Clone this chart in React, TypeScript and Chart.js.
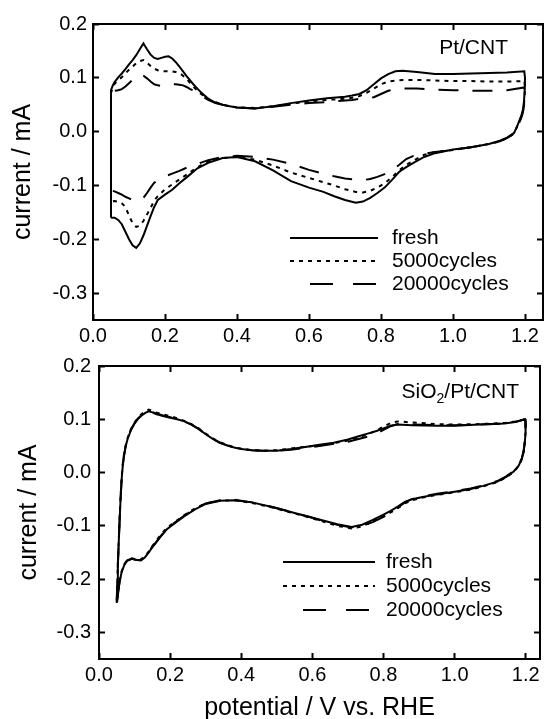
import React, { useEffect, useRef } from 'react';
import { Chart, registerables } from 'chart.js';

Chart.register(...registerables);

// ---------- DATA ----------
const seriesNames = ['fresh', '5000cycles', '20000cycles'];

// Top panel (Pt/CNT) potentials, V vs RHE
const topAnodicV = [0.05, 0.05, 0.055, 0.06, 0.07, 0.08, 0.09, 0.10, 0.11, 0.12, 0.13, 0.14, 0.15, 0.16, 0.17, 0.18, 0.19, 0.20, 0.21, 0.22, 0.23, 0.24, 0.25, 0.26, 0.27, 0.28, 0.29, 0.30, 0.32, 0.34, 0.36, 0.38, 0.40, 0.45, 0.50, 0.55, 0.60, 0.65, 0.70, 0.72, 0.74, 0.76, 0.78, 0.80, 0.82, 0.84, 0.86, 0.90, 0.95, 1.00, 1.05, 1.10, 1.15, 1.198];
const topCathodicV = [1.20, 1.199, 1.197, 1.194, 1.19, 1.18, 1.17, 1.15, 1.13, 1.10, 1.05, 1.00, 0.95, 0.92, 0.89, 0.87, 0.85, 0.83, 0.81, 0.79, 0.77, 0.75, 0.73, 0.70, 0.67, 0.64, 0.60, 0.55, 0.50, 0.45, 0.40, 0.36, 0.32, 0.29, 0.26, 0.24, 0.22, 0.20, 0.18, 0.17, 0.16, 0.15, 0.14, 0.13, 0.12, 0.11, 0.10, 0.09, 0.08, 0.07, 0.06, 0.05];

// Top panel currents, mA
const topFreshAnodic = [-0.16, 0.077, 0.086, 0.092, 0.101, 0.108, 0.116, 0.125, 0.133, 0.142, 0.153, 0.164, 0.153, 0.143, 0.137, 0.135, 0.137, 0.139, 0.140, 0.136, 0.129, 0.121, 0.112, 0.103, 0.095, 0.087, 0.080, 0.073, 0.061, 0.054, 0.050, 0.047, 0.045, 0.043, 0.047, 0.053, 0.058, 0.062, 0.065, 0.067, 0.070, 0.077, 0.088, 0.099, 0.107, 0.112, 0.113, 0.111, 0.107, 0.107, 0.108, 0.109, 0.110, 0.112];
const topFreshCathodic = [0.100, 0.075, 0.055, 0.040, 0.030, 0.013, -0.002, -0.011, -0.017, -0.023, -0.029, -0.033, -0.040, -0.047, -0.058, -0.066, -0.075, -0.090, -0.104, -0.114, -0.123, -0.130, -0.132, -0.127, -0.120, -0.112, -0.104, -0.092, -0.072, -0.055, -0.047, -0.049, -0.058, -0.068, -0.085, -0.096, -0.108, -0.117, -0.127, -0.140, -0.157, -0.175, -0.193, -0.208, -0.216, -0.211, -0.200, -0.186, -0.172, -0.164, -0.160, -0.160];
const top5000Anodic = [-0.13, 0.072, 0.082, 0.089, 0.096, 0.101, 0.108, 0.115, 0.121, 0.127, 0.131, 0.133, 0.128, 0.122, 0.117, 0.114, 0.112, 0.112, 0.112, 0.112, 0.111, 0.109, 0.104, 0.098, 0.090, 0.083, 0.076, 0.070, 0.061, 0.055, 0.050, 0.047, 0.045, 0.044, 0.047, 0.052, 0.056, 0.059, 0.061, 0.063, 0.066, 0.072, 0.080, 0.088, 0.093, 0.095, 0.096, 0.096, 0.095, 0.094, 0.094, 0.093, 0.093, 0.094];
const top5000Cathodic = [0.085, 0.066, 0.050, 0.037, 0.028, 0.012, -0.003, -0.012, -0.018, -0.023, -0.029, -0.034, -0.038, -0.043, -0.054, -0.062, -0.072, -0.085, -0.096, -0.104, -0.110, -0.113, -0.112, -0.107, -0.100, -0.094, -0.086, -0.076, -0.063, -0.052, -0.047, -0.049, -0.056, -0.066, -0.080, -0.089, -0.098, -0.107, -0.120, -0.128, -0.142, -0.154, -0.166, -0.175, -0.177, -0.170, -0.156, -0.140, -0.133, -0.130, -0.129, -0.130];
const top20000Anodic = [-0.11, 0.070, 0.074, 0.076, 0.077, 0.079, 0.084, 0.090, 0.096, 0.102, 0.106, 0.104, 0.099, 0.093, 0.088, 0.086, 0.085, 0.086, 0.088, 0.088, 0.088, 0.087, 0.086, 0.083, 0.079, 0.076, 0.072, 0.067, 0.059, 0.053, 0.050, 0.047, 0.045, 0.043, 0.046, 0.050, 0.053, 0.055, 0.058, 0.059, 0.061, 0.062, 0.064, 0.070, 0.076, 0.079, 0.080, 0.080, 0.078, 0.077, 0.076, 0.076, 0.077, 0.082];
const top20000Cathodic = [0.075, 0.060, 0.047, 0.035, 0.026, 0.011, -0.004, -0.012, -0.018, -0.023, -0.029, -0.034, -0.038, -0.041, -0.045, -0.051, -0.062, -0.072, -0.079, -0.084, -0.088, -0.090, -0.089, -0.087, -0.083, -0.078, -0.071, -0.060, -0.052, -0.047, -0.045, -0.047, -0.053, -0.060, -0.067, -0.073, -0.078, -0.083, -0.090, -0.095, -0.104, -0.114, -0.123, -0.128, -0.129, -0.127, -0.124, -0.121, -0.117, -0.114, -0.111, -0.110];

// Bottom panel (SiO2/Pt/CNT) potentials, V vs RHE
const botAnodicV = [0.05, 0.051, 0.053, 0.055, 0.058, 0.061, 0.064, 0.067, 0.07, 0.075, 0.08, 0.09, 0.10, 0.11, 0.12, 0.13, 0.14, 0.15, 0.16, 0.18, 0.20, 0.22, 0.24, 0.26, 0.28, 0.30, 0.32, 0.34, 0.36, 0.38, 0.40, 0.43, 0.46, 0.50, 0.54, 0.58, 0.62, 0.66, 0.70, 0.73, 0.76, 0.78, 0.80, 0.82, 0.84, 0.88, 0.95, 1.00, 1.07, 1.14, 1.17, 1.198];
const botCathodicV = [1.20, 1.199, 1.197, 1.194, 1.189, 1.18, 1.166, 1.145, 1.12, 1.08, 1.045, 1.00, 0.95, 0.91, 0.88, 0.86, 0.84, 0.82, 0.80, 0.77, 0.74, 0.71, 0.67, 0.63, 0.59, 0.55, 0.49, 0.43, 0.38, 0.34, 0.30, 0.27, 0.24, 0.215, 0.19, 0.17, 0.16, 0.15, 0.14, 0.128, 0.118, 0.106, 0.092, 0.08, 0.072, 0.064, 0.058, 0.054, 0.051];

// Bottom panel currents, mA
const botFreshAnodic = [-0.245, -0.215, -0.175, -0.140, -0.090, -0.045, -0.010, 0.014, 0.030, 0.049, 0.062, 0.080, 0.092, 0.101, 0.107, 0.112, 0.115, 0.113, 0.110, 0.106, 0.103, 0.100, 0.096, 0.090, 0.082, 0.072, 0.063, 0.056, 0.051, 0.047, 0.044, 0.042, 0.041, 0.041, 0.044, 0.048, 0.052, 0.056, 0.062, 0.068, 0.074, 0.078, 0.083, 0.088, 0.090, 0.089, 0.088, 0.088, 0.090, 0.092, 0.095, 0.100];
const botFreshCathodic = [0.095, 0.075, 0.055, 0.040, 0.026, 0.013, 0.002, -0.008, -0.017, -0.025, -0.031, -0.036, -0.041, -0.046, -0.050, -0.055, -0.064, -0.072, -0.079, -0.089, -0.098, -0.102, -0.097, -0.090, -0.083, -0.076, -0.065, -0.056, -0.052, -0.053, -0.059, -0.069, -0.082, -0.094, -0.107, -0.123, -0.132, -0.140, -0.150, -0.160, -0.165, -0.164, -0.162, -0.165, -0.172, -0.186, -0.205, -0.225, -0.243];
const bot5000Anodic = [-0.240, -0.212, -0.172, -0.136, -0.086, -0.041, -0.006, 0.017, 0.033, 0.051, 0.064, 0.082, 0.094, 0.103, 0.110, 0.115, 0.118, 0.116, 0.113, 0.109, 0.106, 0.102, 0.097, 0.091, 0.083, 0.073, 0.064, 0.057, 0.052, 0.047, 0.045, 0.042, 0.041, 0.042, 0.045, 0.048, 0.051, 0.055, 0.060, 0.066, 0.073, 0.079, 0.086, 0.093, 0.096, 0.094, 0.091, 0.090, 0.091, 0.093, 0.096, 0.100];
const bot5000Cathodic = [0.094, 0.074, 0.054, 0.039, 0.025, 0.012, 0.001, -0.009, -0.018, -0.026, -0.032, -0.037, -0.042, -0.047, -0.052, -0.058, -0.067, -0.075, -0.082, -0.092, -0.101, -0.105, -0.100, -0.092, -0.084, -0.077, -0.066, -0.057, -0.052, -0.053, -0.058, -0.067, -0.080, -0.092, -0.104, -0.120, -0.129, -0.138, -0.148, -0.158, -0.163, -0.163, -0.161, -0.164, -0.171, -0.185, -0.203, -0.222, -0.240];
const bot20000Anodic = [-0.242, -0.213, -0.174, -0.139, -0.089, -0.044, -0.009, 0.015, 0.031, 0.050, 0.063, 0.081, 0.093, 0.102, 0.108, 0.113, 0.116, 0.114, 0.111, 0.107, 0.104, 0.100, 0.096, 0.090, 0.082, 0.072, 0.063, 0.056, 0.051, 0.047, 0.044, 0.042, 0.041, 0.041, 0.043, 0.046, 0.050, 0.054, 0.058, 0.063, 0.068, 0.073, 0.080, 0.087, 0.091, 0.090, 0.089, 0.089, 0.090, 0.092, 0.095, 0.100];
const bot20000Cathodic = [0.095, 0.076, 0.056, 0.041, 0.027, 0.014, 0.003, -0.007, -0.016, -0.024, -0.030, -0.035, -0.040, -0.045, -0.050, -0.056, -0.066, -0.075, -0.083, -0.093, -0.100, -0.103, -0.098, -0.091, -0.083, -0.076, -0.065, -0.056, -0.051, -0.052, -0.058, -0.068, -0.081, -0.093, -0.106, -0.122, -0.131, -0.139, -0.149, -0.159, -0.164, -0.164, -0.162, -0.165, -0.172, -0.186, -0.204, -0.223, -0.242];

// Axis settings
const xMin = 0;
const xMaxTop = 1.25;
const xMaxBottom = 1.24;
const xStep = 0.2;
const yMin = -0.35;
const yMax = 0.2;
const yStep = 0.1;

// ---------- STYLE ----------
const FONT = '"Liberation Sans", Arial, Helvetica, sans-serif';
const dashes: number[][] = [[], [4, 5], [20, 14]];

function loop(av: number[], cv: number[], ai: number[], ci: number[]) {
  const pts: { x: number; y: number }[] = [];
  av.forEach((x, k) => pts.push({ x, y: ai[k] }));
  cv.forEach((x, k) => pts.push({ x, y: ci[k] }));
  return pts;
}

interface PanelCfg {
  xMax: number;
  leftW: number;
  rightW: number;
  topH: number;
  bottomH: number;
  yTickPad: number;
  xTickPad: number;
  yTitlePad: number;
  xTitle: boolean;
  label: { text: string; sub?: boolean }[];
  labelRight: number;
  labelY: number;
  legLineX0: number;
  legLineX1: number;
  legTextX: number;
  legRowY: number[];
  curves: { x: number; y: number }[][];
}

function makeChart(canvas: HTMLCanvasElement, cfg: PanelCfg) {
  const fix = (prop: 'width' | 'height', v: number) => (s: any) => {
    s[prop] = v;
  };
  const common = {
    type: 'linear' as const,
    border: { display: true, color: '#000', width: 2 },
    grid: {
      display: true,
      drawOnChartArea: false,
      drawTicks: true,
      tickLength: -6,
      tickWidth: 2,
      tickColor: '#000',
    },
  };
  const xTicks = { stepSize: xStep, includeBounds: false, maxRotation: 0, autoSkip: false };
  const yTicks = { stepSize: yStep, includeBounds: false, autoSkip: false };

  const decor = {
    id: 'decor',
    afterDatasetsDraw(chart: any) {
      const { ctx, chartArea: a } = chart;
      ctx.save();
      ctx.fillStyle = '#000';
      ctx.strokeStyle = '#000';
      // panel label
      ctx.textBaseline = 'middle';
      ctx.textAlign = 'left';
      const big = `21px ${FONT}`;
      const small = `14px ${FONT}`;
      let total = 0;
      cfg.label.forEach((p) => {
        ctx.font = p.sub ? small : big;
        total += ctx.measureText(p.text).width;
      });
      let lx = a.right - cfg.labelRight - total;
      const ly = a.top + cfg.labelY;
      cfg.label.forEach((p) => {
        ctx.font = p.sub ? small : big;
        ctx.fillText(p.text, lx, p.sub ? ly + 7 : ly);
        lx += ctx.measureText(p.text).width;
      });
      // legend
      ctx.font = big;
      ctx.lineWidth = 2;
      seriesNames.forEach((name, k) => {
        const y = a.top + cfg.legRowY[k];
        ctx.setLineDash(k === 2 ? [23, 20] : dashes[k]);
        ctx.lineDashOffset = k === 2 ? 23 : 0;
        ctx.beginPath();
        ctx.moveTo(a.left + cfg.legLineX0, y);
        ctx.lineTo(a.left + cfg.legLineX1, y);
        ctx.stroke();
        ctx.setLineDash([]);
        ctx.lineDashOffset = 0;
        ctx.fillText(name, a.left + cfg.legTextX, y);
      });
      ctx.restore();
    },
  };

  return new Chart(canvas, {
    type: 'scatter',
    data: {
      datasets: cfg.curves.map((pts, k) => ({
        label: seriesNames[k],
        data: pts,
        showLine: true,
        borderColor: '#000',
        backgroundColor: '#000',
        borderWidth: 2,
        borderDash: dashes[k],
        pointRadius: 0,
        pointHoverRadius: 0,
        tension: 0,
      })),
    },
    options: {
      animation: false,
      responsive: false,
      maintainAspectRatio: false,
      events: [],
      layout: { padding: 0 },
      plugins: { legend: { display: false }, tooltip: { enabled: false }, title: { display: false } },
      scales: {
        x: {
          ...common,
          position: 'bottom',
          min: xMin,
          max: cfg.xMax,
          afterFit: fix('height', cfg.bottomH),
          ticks: {
            ...xTicks,
            padding: cfg.xTickPad,
            color: '#000',
            font: { family: FONT, size: 20 },
            callback: (v: any) => Number(v).toFixed(1),
          },
          title: {
            display: cfg.xTitle,
            text: 'potential / V vs. RHE',
            color: '#000',
            font: { family: FONT, size: 25, lineHeight: 1 },
            padding: { top: 0, bottom: -2 },
          },
        },
        x2: {
          ...common,
          position: 'top',
          min: xMin,
          max: cfg.xMax,
          afterFit: fix('height', cfg.topH),
          ticks: { ...xTicks, display: false },
        },
        y: {
          ...common,
          position: 'left',
          min: yMin,
          max: yMax,
          afterFit: fix('width', cfg.leftW),
          ticks: {
            ...yTicks,
            padding: cfg.yTickPad,
            color: '#000',
            font: { family: FONT, size: 20 },
            callback: (v: any) => Number(v).toFixed(1),
          },
          title: {
            display: true,
            text: 'current / mA',
            color: '#000',
            font: { family: FONT, size: 25, lineHeight: 1 },
            padding: { top: cfg.yTitlePad, bottom: 0 },
          },
        },
        y2: {
          ...common,
          position: 'right',
          min: yMin,
          max: yMax,
          afterFit: fix('width', cfg.rightW),
          ticks: { ...yTicks, display: false },
        },
      },
    } as any,
    plugins: [decor],
  });
}

const topCfg: PanelCfg = {
  xMax: xMaxTop,
  leftW: 93,
  rightW: 7,
  topH: 23,
  bottomH: 30,
  yTickPad: 12,
  xTickPad: 10,
  yTitlePad: 11,
  xTitle: false,
  label: [{ text: 'Pt/CNT' }],
  labelRight: 35,
  labelY: 24.5,
  legLineX0: 197,
  legLineX1: 285,
  legTextX: 299,
  legRowY: [214, 237, 260],
  curves: [
    loop(topAnodicV, topCathodicV, topFreshAnodic, topFreshCathodic),
    loop(topAnodicV, topCathodicV, top5000Anodic, top5000Cathodic),
    loop(topAnodicV, topCathodicV, top20000Anodic, top20000Cathodic),
  ],
};

const botCfg: PanelCfg = {
  xMax: xMaxBottom,
  leftW: 99,
  rightW: 6,
  topH: 19,
  bottomH: 60,
  yTickPad: 14,
  xTickPad: 10,
  yTitlePad: 17,
  xTitle: true,
  label: [{ text: 'SiO' }, { text: '2', sub: true }, { text: '/Pt/CNT' }],
  labelRight: 21,
  labelY: 26.5,
  legLineX0: 184,
  legLineX1: 276,
  legTextX: 287,
  legRowY: [196, 220, 244],
  curves: [
    loop(botAnodicV, botCathodicV, botFreshAnodic, botFreshCathodic),
    loop(botAnodicV, botCathodicV, bot5000Anodic, bot5000Cathodic),
    loop(botAnodicV, botCathodicV, bot20000Anodic, bot20000Cathodic),
  ],
};

export default function App() {
  const topRef = useRef<HTMLCanvasElement>(null);
  const botRef = useRef<HTMLCanvasElement>(null);
  useEffect(() => {
    const c1 = makeChart(topRef.current!, topCfg);
    const c2 = makeChart(botRef.current!, botCfg);
    return () => {
      c1.destroy();
      c2.destroy();
    };
  }, []);
  return (
    <div style={{ position: 'absolute', left: 0, top: 0, width: 550, height: 719, overflow: 'hidden', background: '#fff' }}>
      <canvas ref={topRef} width={550} height={350} style={{ position: 'absolute', left: 0, top: 0 }} />
      <canvas ref={botRef} width={550} height={379} style={{ position: 'absolute', left: 0, top: 340 }} />
    </div>
  );
}
